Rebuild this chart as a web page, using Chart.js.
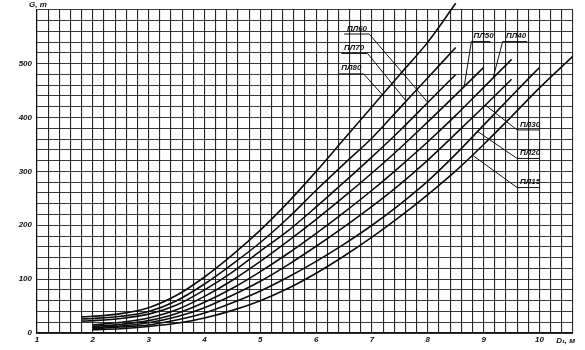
<!DOCTYPE html>
<html>
<head>
<meta charset="utf-8">
<script src="https://cdn.jsdelivr.net/npm/chart.js@4"></script>
<style>
html,body{margin:0;padding:0;background:#fff;}
#wrap{width:585px;height:350px;position:relative;}
</style>
</head>
<body>
<div id="wrap"><canvas id="c" width="585" height="350"></canvas></div>
<script>
// Diameter D, m (x values shared by all curves)
const D = [1.8, 2, 2.5, 3, 3.5, 4, 4.5, 5, 5.5, 6, 6.5, 7, 7.5, 8, 8.5, 9, 9.5, 10, 10.6];
// Mass G, t for each ladle type (null = curve not drawn there)
const PL80 = [30, 31, 36, 47, 70, 104, 145, 191, 243, 300, 360, 420, 480, 540, 612, null, null, null, null];
const PL70 = [26, 27, 31, 40, 60, 91, 128, 168, 214, 265, 314, 362, 418, 474, 530, null, null, null, null];
const PL60 = [22, 23, 27, 35, 52, 80, 113, 152, 190, 234, 280, 327, 376, 428, 480, null, null, null, null];
const PL50 = [null, 15, 20, 28, 43, 68, 98, 133, 171, 211, 253, 297, 343, 392, 442, 493, null, null, null];
const PL40 = [null, 12, 16, 23, 36, 57, 83, 114, 148, 185, 224, 265, 309, 355, 404, 456, 508, null, null];
const PL30 = [null, 10, 13, 19, 30, 47, 70, 96, 127, 161, 197, 235, 276, 321, 370, 420, 471, null, null];
const PL20 = [null, 8, 11, 15, 24, 37, 56, 78, 104, 133, 165, 200, 239, 282, 332, 386, 440, 493, null];
const PL15 = [null, 6, 8, 12, 18, 28, 42, 60, 83, 111, 143, 178, 216, 257, 301, 350, 402, 455, 514];
const seriesNames = ['ПЛ80', 'ПЛ70', 'ПЛ60', 'ПЛ50', 'ПЛ40', 'ПЛ30', 'ПЛ20', 'ПЛ15'];
const seriesValues = [PL80, PL70, PL60, PL50, PL40, PL30, PL20, PL15];
// Axis ticks
const xTickLabels = [1, 2, 3, 4, 5, 6, 7, 8, 9, 10];
const yTickLabels = [0, 100, 200, 300, 400, 500];
const xTitle = 'D₁, м';
const yTitle = 'G, т';
// Curve labels: text anchor [D, G], underline [D1, D2, G], leader start/end [D, G]
const labelText   = ['ПЛ60', 'ПЛ70', 'ПЛ80', 'ПЛ50', 'ПЛ40', 'ПЛ30', 'ПЛ20', 'ПЛ15'];
const labelAt     = [[6.55, 561], [6.5, 526], [6.45, 488], [8.82, 548], [9.4, 548], [9.65, 383], [9.65, 330], [9.65, 276]];
const lineFrom    = [[6.5, 6.95, 555], [6.45, 6.92, 519], [6.4, 6.85, 481], [8.78, 9.12, 541], [9.34, 9.78, 541], [9.6, 10.0, 377], [9.6, 10.0, 324], [9.6, 10.0, 270]];
const leaderStart = [[6.95, 555], [6.92, 519], [6.85, 481], [8.78, 541], [9.34, 541], [9.6, 377], [9.6, 324], [9.6, 270]];
const leaderEnd   = [[8.0, 428], [7.6, 432], [7.18, 443], [8.65, 457], [9.17, 474], [9.03, 423], [8.88, 375], [8.8, 330]];

const datasets = seriesNames.map((n, i) => ({
  label: n,
  data: D.map((d, j) => ({x: d, y: seriesValues[i][j]})),
  borderColor: '#0d0d0d',
  borderWidth: 1.6,
  pointRadius: 0,
  fill: false,
  spanGaps: false,
  cubicInterpolationMode: 'monotone',
  clip: i === 0 ? false : 0
}));

const FONT = 'italic bold 8px "Liberation Sans", Arial, sans-serif';

const annot = {
  id: 'annot',
  afterDatasetsDraw(chart) {
    const ctx = chart.ctx, xs = chart.scales.x, ys = chart.scales.y;
    ctx.save();
    ctx.strokeStyle = '#111';
    ctx.fillStyle = '#111';
    ctx.lineWidth = 1;
    ctx.font = FONT;
    ctx.textBaseline = 'alphabetic';
    ctx.textAlign = 'left';
    labelText.forEach((t, i) => {
      ctx.fillText(t, xs.getPixelForValue(labelAt[i][0]), ys.getPixelForValue(labelAt[i][1]));
      const ly = ys.getPixelForValue(lineFrom[i][2]);
      ctx.beginPath();
      ctx.moveTo(xs.getPixelForValue(lineFrom[i][0]), ly);
      ctx.lineTo(xs.getPixelForValue(lineFrom[i][1]), ly);
      ctx.moveTo(xs.getPixelForValue(leaderStart[i][0]), ys.getPixelForValue(leaderStart[i][1]));
      ctx.lineTo(xs.getPixelForValue(leaderEnd[i][0]), ys.getPixelForValue(leaderEnd[i][1]));
      ctx.stroke();
    });
    // axis titles
    ctx.textAlign = 'left';
    ctx.textBaseline = 'top';
    ctx.fillText(yTitle, xs.left - 8, 1);
    ctx.textBaseline = 'middle';
    ctx.fillText(xTitle, xs.getPixelForValue(10.3), ys.bottom + 8);
    ctx.restore();
  }
};

const isInt = v => Math.abs(v - Math.round(v)) < 1e-6;

new Chart(document.getElementById('c'), {
  type: 'line',
  data: { datasets },
  options: {
    responsive: false,
    animation: false,
    events: [],
    layout: { padding: { left: 0, right: 12, top: 8, bottom: 0 } },
    plugins: { legend: { display: false }, tooltip: { enabled: false } },
    scales: {
      x: {
        type: 'linear', min: 1, max: 10.6,
        afterFit(s) { s.height = 17; },
        afterBuildTicks(s) {
          const t = [];
          for (let k = 0; k <= 48; k++) t.push({ value: +(1 + k * 0.2).toFixed(1) });
          s.ticks = t;
        },
        ticks: {
          autoSkip: false, maxRotation: 0, padding: 2,
          font: { family: '"Liberation Sans", Arial, sans-serif', size: 8, style: 'italic', weight: 'bold' },
          color: '#111',
          callback: v => (isInt(v) && xTickLabels.includes(Math.round(v))) ? String(Math.round(v)) : ''
        },
        grid: { color: 'rgba(0,0,0,0.85)', lineWidth: 1.1, tickLength: 0, drawTicks: false },
        border: { color: '#111', width: 1.2 }
      },
      y: {
        type: 'linear', min: 0, max: 600,
        afterFit(s) { s.width = 37; },
        afterBuildTicks(s) {
          const t = [];
          for (let k = 0; k <= 30; k++) t.push({ value: k * 20 });
          s.ticks = t;
        },
        ticks: {
          autoSkip: false, padding: 5,
          font: { family: '"Liberation Sans", Arial, sans-serif', size: 8, style: 'italic', weight: 'bold' },
          color: '#111',
          callback: v => yTickLabels.includes(v) ? String(v) : ''
        },
        grid: { color: 'rgba(0,0,0,0.78)', lineWidth: 1, tickLength: 0, drawTicks: false },
        border: { color: '#111', width: 1.2 }
      }
    }
  },
  plugins: [annot]
});
</script>
</body>
</html>
